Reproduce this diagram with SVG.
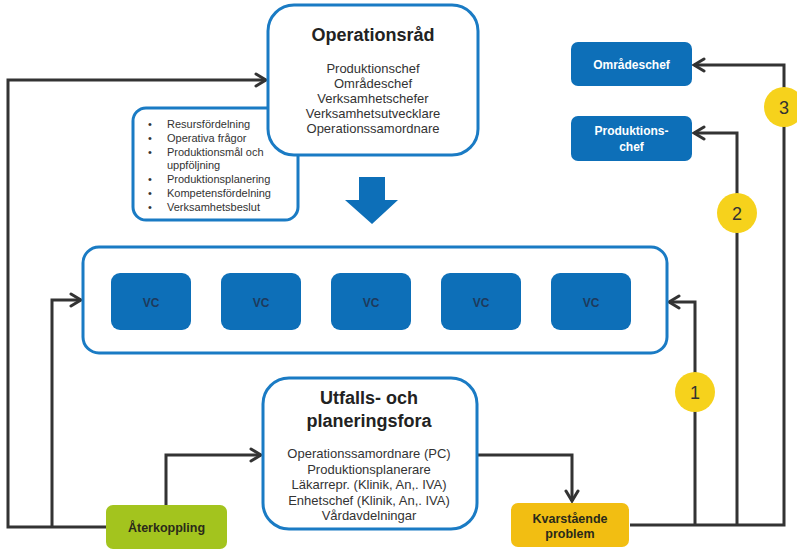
<svg xmlns="http://www.w3.org/2000/svg" width="797" height="551" viewBox="0 0 797 551">
<defs>
<style>
.conn{fill:none;stroke:#333;stroke-width:3;stroke-linejoin:miter}
.outline{fill:#fff;stroke:#1a7bc4;stroke-width:3}
.blue{fill:#0d6fb8}
.t{font-family:"Liberation Sans",Arial,sans-serif;fill:#333;text-anchor:middle}
.title{font-size:18px;font-weight:bold;fill:#222}
.body{font-size:13px}
.bul{font-size:11px;text-anchor:start}
.vc{font-size:12px;font-weight:bold;fill:#1e3a5c}
.wt{font-size:12px;font-weight:bold;fill:#fff}
.dk{font-size:12.5px;font-weight:bold;fill:#2a2a1a}
.num{font-size:18px;fill:#333}
.circ{fill:#f6d21c}
</style>
<marker id="arr" viewBox="0 0 14 16" refX="12" refY="8" markerWidth="14" markerHeight="16" markerUnits="userSpaceOnUse" orient="auto">
<path d="M2,2 L12,8 L2,14" fill="none" stroke="#333" stroke-width="3" stroke-linecap="round" stroke-linejoin="miter"/>
</marker>
</defs>
<rect width="797" height="551" fill="#fff"/>

<g id="connectors">
<path class="conn" d="M107,527 H8 V80 H266" marker-end="url(#arr)"/>
<path class="conn" d="M52,527 V300 H81" marker-end="url(#arr)"/>
<path class="conn" d="M166,505 V455 H261" marker-end="url(#arr)"/>
<path class="conn" d="M477,455 H572 V501" marker-end="url(#arr)"/>
<path class="conn" d="M630,525 H784 V65 H694" marker-end="url(#arr)"/>
<path class="conn" d="M737,525 V133 H694" marker-end="url(#arr)"/>
<path class="conn" d="M695,525 V302 H669" marker-end="url(#arr)"/>
</g>

<g id="bullets">
<rect class="outline" x="133" y="108" width="165" height="112" rx="13"/>
<g class="t bul">
<text x="148" y="128">•</text><text x="167" y="128">Resursfördelning</text>
<text x="148" y="141.8">•</text><text x="167" y="141.8">Operativa frågor</text>
<text x="148" y="155.6">•</text><text x="167" y="155.6">Produktionsmål och</text>
<text x="167" y="169.4">uppföljning</text>
<text x="148" y="183.2">•</text><text x="167" y="183.2">Produktionsplanering</text>
<text x="148" y="197">•</text><text x="167" y="197">Kompetensfördelning</text>
<text x="148" y="210.8">•</text><text x="167" y="210.8">Verksamhetsbeslut</text>
</g>
</g>

<g id="operationsrad">
<rect class="outline" x="268" y="5" width="210" height="150" rx="26"/>
<text class="t title" x="373" y="41">Operationsråd</text>
<g class="t body">
<text x="373" y="73">Produktionschef</text>
<text x="373" y="88">Områdeschef</text>
<text x="373" y="103">Verksamhetschefer</text>
<text x="373" y="118">Verksamhetsutvecklare</text>
<text x="373" y="133">Operationssamordnare</text>
</g>
</g>

<g id="down-arrow">
<polygon class="blue" points="359,177 385,177 385,200 398,200 372,224 345,200 359,200"/>
</g>

<g id="vc-container">
<rect class="outline" x="83" y="247" width="584" height="106" rx="16"/>
</g>
<g id="vc1"><rect class="blue" x="111" y="273" width="80" height="57" rx="9"/><text class="t vc" x="151" y="307">VC</text></g>
<g id="vc2"><rect class="blue" x="221" y="273" width="80" height="57" rx="9"/><text class="t vc" x="261" y="307">VC</text></g>
<g id="vc3"><rect class="blue" x="331" y="273" width="80" height="57" rx="9"/><text class="t vc" x="371" y="307">VC</text></g>
<g id="vc4"><rect class="blue" x="441" y="273" width="80" height="57" rx="9"/><text class="t vc" x="481" y="307">VC</text></g>
<g id="vc5"><rect class="blue" x="551" y="273" width="80" height="57" rx="9"/><text class="t vc" x="591" y="307">VC</text></g>

<g id="utfalls">
<rect class="outline" x="263" y="378" width="214" height="151" rx="26"/>
<text class="t title" x="369" y="404">Utfalls- och</text>
<text class="t title" x="369" y="427">planeringsfora</text>
<g class="t body">
<text x="369" y="458">Operationssamordnare (PC)</text>
<text x="369" y="473.5">Produktionsplanerare</text>
<text x="369" y="489">Läkarrepr. (Klinik, An,. IVA)</text>
<text x="369" y="504.5">Enhetschef (Klinik, An,. IVA)</text>
<text x="369" y="520">Vårdavdelningar</text>
</g>
</g>

<g id="aterkoppling">
<rect x="106" y="505" width="121" height="44" rx="7" fill="#a3c41e"/>
<text class="t dk" x="166.5" y="531.5">Återkoppling</text>
</g>

<g id="kvarstaende">
<rect x="511" y="503" width="118" height="44" rx="7" fill="#f2be12"/>
<text class="t dk" x="570" y="522.5">Kvarstående</text>
<text class="t dk" x="570" y="537.5">problem</text>
</g>

<g id="omradeschef">
<rect class="blue" x="571" y="42" width="121" height="44" rx="7"/>
<text class="t wt" x="631.5" y="68.5">Områdeschef</text>
</g>

<g id="produktionschef">
<rect class="blue" x="571" y="116" width="121" height="45" rx="7"/>
<text class="t wt" x="631.5" y="134.5">Produktions-</text>
<text class="t wt" x="631.5" y="151">chef</text>
</g>

<g id="badge1"><circle class="circ" cx="695" cy="392" r="20"/><text class="t num" x="695" y="398.5">1</text></g>
<g id="badge2"><circle class="circ" cx="737" cy="213" r="20"/><text class="t num" x="737" y="219.5">2</text></g>
<g id="badge3"><circle class="circ" cx="784" cy="107" r="20"/><text class="t num" x="784" y="113.5">3</text></g>
</svg>
